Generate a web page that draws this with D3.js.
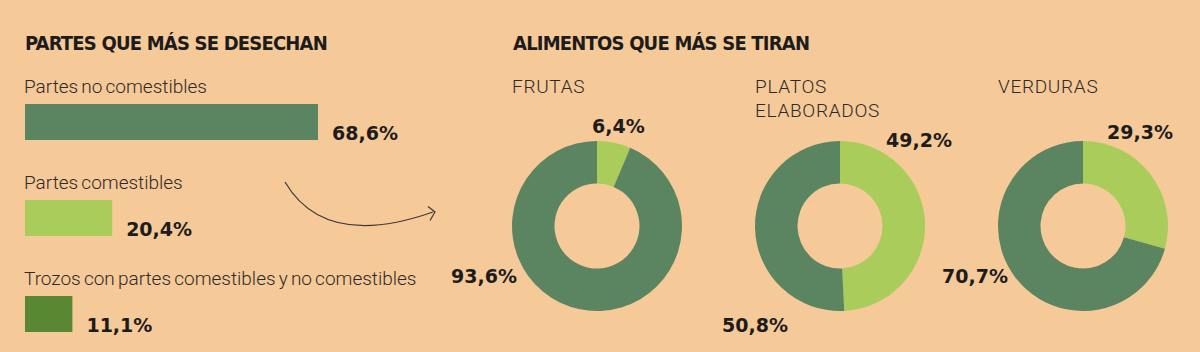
<!DOCTYPE html>
<html><head><meta charset="utf-8">
<script src="https://cdn.jsdelivr.net/npm/d3@7"></script>
<style>
html,body{margin:0;padding:0;background:#F6C998;}
svg{display:block;}
.title{font-family:"DejaVu Sans Condensed","DejaVu Sans";font-weight:bold;font-size:20px;letter-spacing:-0.8px;fill:#1c1c1c;}
.lab{font-family:Roboto;font-weight:300;font-size:19px;word-spacing:-1.5px;fill:#2b2b2b;}
.sub{font-family:Roboto;font-weight:300;font-size:19px;fill:#2b2b2b;letter-spacing:0.7px;}
.val{font-family:"DejaVu Sans";font-weight:bold;font-size:19px;fill:#1c1c1c;}
</style></head><body>
<svg id="c" width="1200" height="352"></svg>
<script>
const barCategories = ["Partes no comestibles","Partes comestibles","Trozos con partes comestibles y no comestibles"];
const barValues = [68.6, 20.4, 11.1];
const barLabels = ["68,6%","20,4%","11,1%"];
const barColors = ["#5B8460","#A9CC5A","#5A8832"];

const donutNames = [["FRUTAS"],["PLATOS","ELABORADOS"],["VERDURAS"]];
const donutLight = [6.4, 49.2, 29.3];
const donutDark = [93.6, 50.8, 70.7];
const donutLightLabels = ["6,4%","49,2%","29,3%"];
const donutDarkLabels = ["93,6%","50,8%","70,7%"];

const svg = d3.select("#c");

// Left panel
svg.append("text").attr("class","title").attr("x",25).attr("y",50).text("PARTES QUE MÁS SE DESECHAN");
const x = d3.scaleLinear().domain([0,68.6]).range([0,293]);
const rowY = d3.scaleBand().domain(barCategories).range([72,360]).paddingInner(0);
barCategories.forEach((c,i)=>{
  const y0 = rowY(c);
  svg.append("text").attr("class","lab").attr("x",24).attr("y",y0+21).text(c);
  svg.append("rect").attr("x",25).attr("y",y0+32).attr("width",x(barValues[i])).attr("height",36).attr("fill",barColors[i]);
  svg.append("text").attr("class","val").attr("x",25+x(barValues[i])+14).attr("y",y0+68).text(barLabels[i]);
});

// arrow
svg.append("path").attr("d","M285,182 Q325,250 433,212").attr("fill","none").attr("stroke","#3a3a3a").attr("stroke-width",1.2);
svg.append("path").attr("d","M428,206.5 L435,212 L430,220.5").attr("fill","none").attr("stroke","#3a3a3a").attr("stroke-width",1.2);

// Right panel
svg.append("text").attr("class","title").attr("x",513).attr("y",50).text("ALIMENTOS QUE MÁS SE TIRAN");
const cx = [597, 840, 1083];
const cy = 226;
const pie = d3.pie().sort(null).value(d=>d);
const arc = d3.arc().innerRadius(42.5).outerRadius(85);
const lightPos = [[592,133],[886,147],[1107,139]];
const darkPos = [[451,283],[722,332],[942,283]];
donutNames.forEach((nm,i)=>{
  const g = svg.append("g").attr("transform",`translate(${cx[i]},${cy})`);
  g.selectAll("path").data(pie([donutLight[i],donutDark[i]])).join("path")
    .attr("d",arc).attr("fill",(d,j)=>j===0?"#A9CC5A":"#5B8460");
  const t = svg.append("text").attr("class","sub").attr("x",cx[i]-85).attr("y",93);
  nm.forEach((s,k)=>t.append("tspan").attr("x",cx[i]-85).attr("dy",k?24:0).text(s));
  svg.append("text").attr("class","val").attr("x",lightPos[i][0]).attr("y",lightPos[i][1]).text(donutLightLabels[i]);
  svg.append("text").attr("class","val").attr("x",darkPos[i][0]).attr("y",darkPos[i][1]).text(donutDarkLabels[i]);
});
</script></body></html>
